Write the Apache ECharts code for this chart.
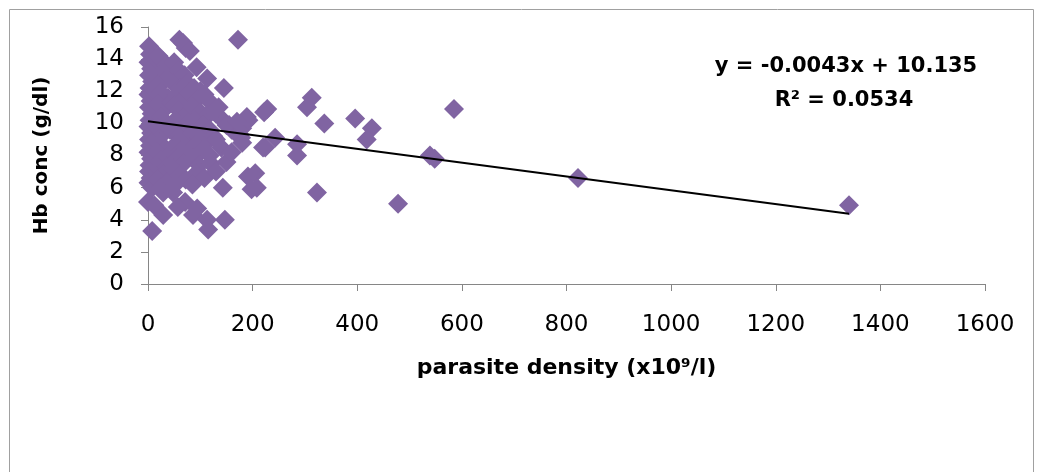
<!DOCTYPE html>
<html>
<head>
<meta charset="utf-8">
<script src="https://cdn.jsdelivr.net/npm/echarts@6/dist/echarts.min.js"></script>
<style>
  html, body { margin: 0; padding: 0; background: #fff; }
  #chart { width: 1041px; height: 472px; }
</style>
</head>
<body>
<div id="chart"></div>
<script>
// parasite density (x10^9/l) and Hb conc (g/dl)
const density = [
  2, 4, 1, 6, 2, 8, 3, 1, 5, 2, 7, 3, 1, 6, 2, 4, 1, 6, 3, 2, 5, 1, 8, 0, 12, 8, 12, 14, 10, 13, 11, 15,
  20, 28, 35, 22, 30, 40, 18, 25, 38, 20, 32, 44, 24, 36, 18, 28, 42, 22, 34, 16, 40, 26, 20, 36, 30, 18, 42, 25, 29, 48, 29,
  60, 67, 72, 80, 50, 58, 70, 48, 62, 75, 55, 68, 78, 50, 60, 72, 52, 65, 78, 48, 58, 70, 50, 62, 75, 55, 68, 48, 60, 72, 52, 71, 57,
  93, 100, 113, 88, 95, 108, 120, 85, 100, 115, 125, 90, 105, 118, 85, 98, 112, 125, 90, 102, 118, 86, 98, 120, 92, 108, 85, 86, 94, 113, 115,
  145, 130, 140, 135, 155, 160, 168, 175, 180, 185, 189, 192, 178, 150, 170, 130, 140, 180, 150, 143, 147, 172, 191, 205, 208, 198, 220, 228, 222, 243, 224, 130, 160,
  1340, 822, 585, 539, 548, 478, 428, 418, 396, 337, 323, 313, 304, 285, 285
]
const hbConc = [
  14.8, 14.3, 13.8, 13.4, 13.0, 12.6, 12.2, 11.8, 11.4, 11.0, 10.6, 10.2, 9.8, 9.4, 9.0, 8.6, 8.2, 7.8, 7.4, 7.0, 6.6, 6.3, 6.0, 5.1, 4.9, 3.3, 8.0, 9.0, 10.8, 12.0, 13.2, 14.0,
  14.2, 13.9, 13.6, 13.0, 12.6, 12.9, 12.4, 11.9, 11.6, 11.2, 10.9, 11.3, 10.4, 10.0, 9.7, 9.3, 9.6, 8.8, 8.4, 8.2, 8.0, 7.7, 7.2, 7.3, 6.8, 6.5, 6.5, 6.0, 5.7, 5.7, 4.3,
  15.2, 15.0, 14.7, 14.5, 13.8, 13.3, 13.0, 12.5, 12.2, 12.5, 11.8, 11.5, 11.9, 11.1, 10.8, 10.5, 10.2, 9.9, 10.1, 9.5, 9.2, 8.9, 8.6, 8.3, 8.0, 7.8, 7.5, 7.2, 6.8, 6.5, 6.2, 5.1, 4.8,
  13.5, 12.0, 12.8, 12.2, 11.5, 11.8, 11.3, 11.0, 10.7, 10.5, 10.9, 10.2, 9.9, 9.6, 9.4, 9.1, 8.8, 9.2, 8.6, 8.3, 8.0, 7.8, 7.4, 7.5, 6.9, 6.6, 6.2, 4.3, 4.7, 4.0, 3.4,
  12.2, 10.6, 10.3, 11.0, 9.9, 9.6, 9.4, 9.3, 9.7, 10.0, 10.4, 10.2, 9.1, 9.9, 10.1, 9.0, 8.5, 8.8, 7.6, 6.0, 4.0, 15.2, 6.7, 6.9, 6.0, 5.9, 8.5, 10.9, 10.7, 9.1, 8.5, 7.0, 8.2,
  4.9, 6.6, 10.9, 8.0, 7.8, 5.0, 9.7, 9.0, 10.3, 10.0, 5.7, 11.6, 11.0, 8.7, 8.0
]
// linear trendline end points: y = -0.0043x + 10.135, over the data range
const trendX = [0, 1340]
const trendY = [10.135, 4.373]
const xTicks = { min: 0, max: 1600, interval: 200 }
const yTicks = { min: 0, max: 16, interval: 2 }

const myChart = echarts.init(document.getElementById('chart'))
const purple = '#8064a2'
const axisGray = '#868686'
const tickFont = 'DejaVu Sans'

const points = density.map(function (d, i) { return [d, hbConc[i]] })
const trend = trendX.map(function (d, i) { return [d, trendY[i]] })

const option = {
  animation: false,
  grid: { left: 148, right: 56, top: 27, bottom: 188 },
  xAxis: {
    type: 'value',
    min: xTicks.min,
    max: xTicks.max,
    interval: xTicks.interval,
    name: 'parasite density (x10⁹/l)',
    nameLocation: 'middle',
    nameGap: 73,
    nameTextStyle: { fontFamily: tickFont, fontWeight: 'bold', fontSize: 22, color: '#000' },
    axisLine: { show: true, lineStyle: { color: axisGray, width: 1 } },
    axisTick: { show: true, length: 7, lineStyle: { color: axisGray } },
    axisLabel: {
      fontFamily: tickFont,
      fontSize: 23,
      color: '#000',
      margin: 30,
      formatter: function (v) { return String(v) }
    },
    splitLine: { show: false }
  },
  yAxis: {
    type: 'value',
    min: yTicks.min,
    max: yTicks.max,
    interval: yTicks.interval,
    name: 'Hb conc (g/dl)',
    nameLocation: 'middle',
    nameGap: 96,
    nameTextStyle: { fontFamily: tickFont, fontWeight: 'bold', fontSize: 20, color: '#000' },
    axisLine: { show: true, lineStyle: { color: axisGray, width: 1 } },
    axisTick: { show: true, length: 7, lineStyle: { color: axisGray } },
    axisLabel: { fontFamily: tickFont, fontSize: 23, color: '#000', margin: 24 },
    splitLine: { show: false }
  },
  series: [
    {
      type: 'scatter',
      data: points,
      symbol: 'diamond',
      symbolSize: 20,
      itemStyle: { color: purple, opacity: 1 }
    },
    {
      type: 'line',
      data: trend,
      symbol: 'none',
      z: 5,
      lineStyle: { color: '#000', width: 2 }
    }
  ],
  graphic: [
    {
      type: 'rect',
      shape: { x: 9.5, y: 9.5, width: 1024, height: 480 },
      style: { fill: 'none', stroke: '#a0a0a0', lineWidth: 1 },
      z: -1
    },
    {
      type: 'text',
      x: 846,
      y: 67,
      style: {
        text: 'y = -0.0043x + 10.135',
        font: 'bold 21px DejaVu Sans',
        fill: '#000',
        align: 'center',
        verticalAlign: 'middle'
      }
    },
    {
      type: 'text',
      x: 844,
      y: 101,
      style: {
        text: 'R² = 0.0534',
        font: 'bold 21px DejaVu Sans',
        fill: '#000',
        align: 'center',
        verticalAlign: 'middle'
      }
    }
  ]
}
myChart.setOption(option)
</script>
</body>
</html>
